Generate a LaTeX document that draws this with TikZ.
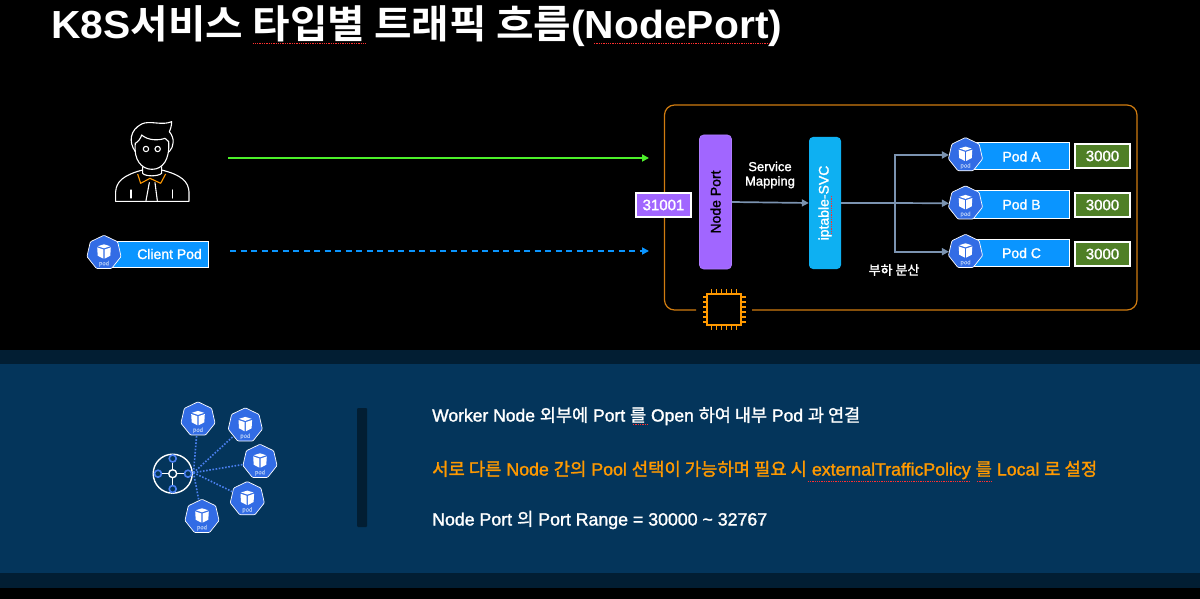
\documentclass[tikz,border=0pt]{standalone}
\usepackage{graphicx}
\usepackage{fontspec}
\setmainfont{Liberation Sans}[FakeBold=1.5]
\newfontfamily\tfont{Liberation Sans Bold}
\newfontfamily\kfont{Noto Sans CJK KR}[FakeBold=1.5]
\newfontfamily\ktfont{Noto Sans CJK KR Bold}
\usetikzlibrary{arrows.meta,shapes.geometric}
\newcommand{\K}[1]{{\kfont #1}}
\newcommand{\T}[1]{{\ktfont #1}}
\newcommand{\fs}[1]{\fontsize{#1pt}{#1pt}\selectfont}
\definecolor{bandmain}{HTML}{04355B}
\definecolor{banddark}{HTML}{021E33}
\definecolor{frameor}{HTML}{D07C10}
\definecolor{chipor}{HTML}{FF9900}
\definecolor{purp}{HTML}{A166FF}
\definecolor{sky}{HTML}{0EB0F2}
\definecolor{barblue}{HTML}{0A95FF}
\definecolor{podblue}{HTML}{326CE5}
\definecolor{slate}{HTML}{7B93B0}
\definecolor{portgreen}{HTML}{4F7F26}
\definecolor{greenline}{HTML}{4CF02A}
\definecolor{podtxt}{HTML}{A9C4F5}
\definecolor{dotblue}{HTML}{4A80F0}
\definecolor{squig}{HTML}{FF3030}
\tikzset{
 podshape/.style={regular polygon,regular polygon sides=7,draw=white,line width=0.7pt,fill=podblue,minimum size=35pt,inner sep=0pt,rounded corners=1pt},
 podbar/.style={draw=white,line width=1pt,fill=barblue,text=white,inner sep=0pt,font=\fs{14}},
 portbox/.style={draw=white,line width=2pt,fill=portgreen,text=white,minimum width=55pt,minimum height=24.5pt,inner sep=0pt,font=\fs{15}},
 flowarrow/.style={draw=slate,line width=1.7pt,-{Triangle[length=7pt,width=7pt]}},
 flowline/.style={draw=slate,line width=1.7pt},
 squiggle/.style={draw=squig,line width=1pt,dash pattern=on 1.3pt off 1pt},
 pillbox/.style={rounded corners=4pt,inner sep=0pt,minimum width=32pt,rotate=90},
 stroke/.style={draw=white,line width=1.1pt,line cap=round,line join=round},
 hubdot/.style={circle,draw=dotblue,line width=1.6pt,fill=bandmain,minimum size=7pt,inner sep=0pt},
 pindot/.style={draw=dotblue,line width=1.6pt,dash pattern=on 1.6pt off 1.6pt},
 bodyline/.style={anchor=west,inner sep=0pt,text height=13pt,text depth=4pt,font=\fs{17}}
}
% pod icon: named heptagon + cube + label
\newcommand{\podicon}[3]{%
 \node[podshape] (#1) at (#2,#3) {};
 \begin{scope}[shift={(#2,#3)}]
  \fill[white] (-6.8,-5.3) -- (-0.6,-3.2) -- (-0.6,6) -- (-6.3,3) -- cycle;
  \fill[white] (6.8,-5.3) -- (0.6,-3.2) -- (0.6,6) -- (6.3,3) -- cycle;
  \fill[white] (-6.2,-6.5) -- (0,-8.4) -- (6.2,-6.5) -- (0,-4.4) -- cycle;
  \node[text=podtxt,inner sep=0pt,font=\fs{6}] at (0,11) {pod};
 \end{scope}}
\begin{document}
\begin{tikzpicture}[x=1pt,y=-1pt]
\useasboundingbox (0,0) rectangle (1200,599);
\fill[black] (0,0) rectangle (1200,599);
\fill[banddark] (0,350) rectangle (1200,588);
\fill[bandmain] (0,364) rectangle (1200,573);

% title
\node[anchor=west,inner sep=0pt,text=white] (title) at (51,26) {\resizebox*{731pt}{41pt}{\fs{44}{\tfont K8S\T{서비스 타입별 트래픽 흐름}(NodePort)}}};
\coordinate (sq1a) at (252.5,43.5); \coordinate (sq1b) at (366,43.5);
\coordinate (sq2a) at (594,43.5); \coordinate (sq2b) at (770,43.5);
\draw[squiggle] (sq1a) -- (sq1b);
\draw[squiggle] (sq2a) -- (sq2b);

% person
\begin{scope}[shift={(70,110)},x=0.3333pt,y=-0.3333pt]
 \draw[stroke] (137,274) -- (357,274) -- (357,245) .. controls (355,215) and (335,195) .. (275,180);
 \draw[stroke] (137,274) -- (137,245) .. controls (139,215) and (160,195) .. (218,180);
 \draw[stroke] (196,100) .. controls (190,150) and (215,178) .. (246,178) .. controls (277,178) and (300,150) .. (296,95);
 \draw[stroke] (196,125) .. controls (175,95) and (180,60) .. (215,42) .. controls (240,30) and (275,48) .. (305,35) .. controls (305,50) and (300,60) .. (298,65) .. controls (315,85) and (312,110) .. (298,125);
 \draw[stroke] (196,100) .. controls (205,95) and (212,85) .. (215,75) .. controls (235,92) and (265,92) .. (285,85) .. controls (290,90) and (294,92) .. (296,95);
 \draw[stroke] (228,117) circle (8);
 \draw[stroke] (263,117) circle (8);
 \draw[stroke] (218,170) -- (218,190) .. controls (225,200) and (265,200) .. (275,190) -- (275,170);
 \draw[draw=chipor,line width=1.1pt,line join=round] (203,192) -- (212,220) -- (240,205) -- (272,220) -- (287,192);
 \draw[stroke] (238,218) -- (228,272);
 \draw[stroke] (255,218) -- (262,272);
 \draw[stroke] (183,240) -- (183,264);
 \draw[stroke] (308,240) -- (308,264);
\end{scope}

% client pod
\node[podbar,anchor=west,minimum width=97pt,minimum height=26pt] (clientbar) at (110.5,254) {\hspace*{20pt}Client Pod};
\podicon{clientpod}{104}{252.7}

% frame
\coordinate (fa) at (696,310); \coordinate (fb) at (752,310);
\draw[frameor,line width=1.2pt,rounded corners=10pt] (fa) -- (664.5,310) -- (664.5,105) -- (1137,105) -- (1137,310) -- (fb);

% chip
\node[draw=chipor,line width=1.5pt,minimum width=34pt,minimum height=31pt,inner sep=0pt] (chip) at (724,309.5) {};
\foreach \d in {-12.5,-7.5,-2.5,2.5,7.5,12.5}{
 \draw[chipor,line width=1.2pt] (724+\d,289) -- (724+\d,294);
 \draw[chipor,line width=1.2pt] (724+\d,325) -- (724+\d,330);
 \draw[chipor,line width=1.2pt] (703,309.5+\d) -- (707,309.5+\d);
 \draw[chipor,line width=1.2pt] (741,309.5+\d) -- (746,309.5+\d);
}

% main boxes
\node[pillbox,fill=purp,draw=purp!85!white,line width=0.6pt,minimum height=32pt,minimum width=134pt,text=black,font=\fs{14}] (nodeport) at (715.5,202) {Node Port};
\node[pillbox,fill=sky,minimum height=32pt,minimum width=132pt,text=white,font=\fs{14}] (svc) at (825,203) {iptable-SVC};
\coordinate (sq3a) at (831,196); \coordinate (sq3b) at (831,235);
\draw[squiggle] (sq3a) -- (sq3b);
\node[draw=white,line width=2pt,fill=purp,text=white,minimum width=55pt,minimum height=24.5pt,inner sep=0pt,font=\fs{15}] (nport) at (663.5,205) {31001};

% left arrows
\coordinate (ga) at (228,158); \coordinate (gb) at (649,158);
\coordinate (ba) at (230,251); \coordinate (bb) at (649,251);
\draw[greenline,line width=1.7pt,-{Triangle[length=7pt,width=7pt]}] (ga) -- (gb);
\draw[barblue,line width=1.7pt,dash pattern=on 6pt off 4.5pt,-{Triangle[length=7pt,width=7pt]}] (ba) -- (bb);

% pods
\node[podbar,anchor=west,minimum width=100pt,minimum height=27pt] (barA) at (968.5,156.5) {\hspace*{5pt}Pod A};
\node[podbar,anchor=west,minimum width=100pt,minimum height=27pt] (barB) at (968.5,204.5) {\hspace*{5pt}Pod B};
\node[podbar,anchor=west,minimum width=100pt,minimum height=27pt] (barC) at (968.5,253) {\hspace*{5pt}Pod C};
\podicon{podA}{965.5}{155}
\podicon{podB}{965.5}{203.3}
\podicon{podC}{965.5}{251.7}
\node[portbox] (portA) at (1102.5,156) {3000};
\node[portbox] (portB) at (1102.5,205) {3000};
\node[portbox] (portC) at (1102.5,254) {3000};

% flow
\coordinate (branch) at (895,203);
\draw[flowarrow] (nodeport.south) -- (svc.north);
\draw[flowline] (svc.south) -- (branch);
\draw[flowarrow] (branch) |- (podA.west);
\draw[flowarrow] (branch) -- (podB.west);
\draw[flowarrow] (branch) |- (podC.west);

\node[text=white,align=center,inner sep=0pt,font=\fs{13}] (svcmap) at (770,175) {Service\\[1.5pt]Mapping};
\node[text=white,inner sep=0pt,font=\fs{13}] (lb) at (894,270) {\K{부하 분산}};

% lower band
\fill[banddark,rounded corners=1pt] (357,408) rectangle (367,527);

\node[circle,draw=white,line width=1.4pt,minimum size=39pt,inner sep=0pt] (hub) at (172.7,473.7) {};
\node[circle,draw=white,line width=1.4pt,minimum size=8pt,inner sep=0pt] (hubc) at (172.7,473.7) {};
\node[hubdot] (h1) at (172.7,458.5) {};
\node[hubdot] (h2) at (172.7,489) {};
\node[hubdot] (h3) at (158,473.7) {};
\node[hubdot] (h4) at (188,473.7) {};
\foreach \h in {h1,h2,h3,h4}{\draw[white,line width=1.3pt] (hubc) -- (\h);}
\podicon{n1}{198}{419.3}
\podicon{n2}{245.3}{425.3}
\podicon{n3}{260}{461.7}
\podicon{n4}{247.3}{499}
\podicon{n5}{202}{516.7}
\coordinate (hubr) at (193.5,472.7);
\foreach \n in {n1,n2,n3,n4,n5}{\draw[pindot] (hubr) -- (\n);}

\node[bodyline,text=white] (t1) at (432,417) {\resizebox{428pt}{!}{\fs{17}Worker Node \K{외부에} Port \K{를} Open \K{하여 내부} Pod \K{과 연결}}};
\node[bodyline,text=chipor] (t2) at (432,471) {\resizebox{665pt}{!}{\fs{17}\K{서로 다른} Node \K{간의} Pool \K{선택이 가능하며 필요 시} externalTrafficPolicy \K{를} Local \K{로 설정}}};
\node[bodyline,text=white] (t3) at (432,521) {\resizebox{335pt}{!}{\fs{17}Node Port \K{의} Port Range = 30000 \textasciitilde{} 32767}};
\coordinate (sq4a) at (633,424.5); \coordinate (sq4b) at (648,424.5);
\coordinate (sq5a) at (807.6,481); \coordinate (sq5b) at (970.6,481);
\coordinate (sq6a) at (977,481); \coordinate (sq6b) at (992.7,481);
\draw[squiggle] (sq4a) -- (sq4b);
\draw[squiggle] (sq5a) -- (sq5b);
\draw[squiggle] (sq6a) -- (sq6b);
\end{tikzpicture}
\end{document}
